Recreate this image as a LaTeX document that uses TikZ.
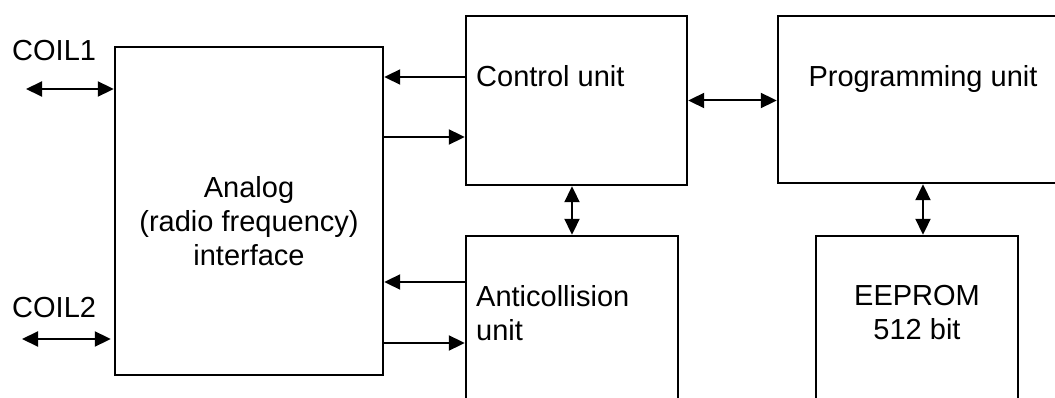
\documentclass[tikz,border=0pt]{standalone}
\usepackage{fontspec}
\setmainfont{Liberation Sans}
\usepackage{tikz}
\usetikzlibrary{positioning,arrows.meta,calc}
\tikzset{
unit/.style={
draw,
line width=2.4pt,
inner sep=0pt
},
txt/.style={
inner sep=0pt,
align=center,
font=\fontsize{29pt}{34pt}\selectfont
},
arrow/.style={
-{Triangle[length=16pt,width=15pt]},
line width=2pt
},
biarrow/.style={
{Triangle[length=16pt,width=15pt]}-{Triangle[length=16pt,width=15pt]},
line width=2pt
}
}

\begin{document}
\begin{tikzpicture}[x=1pt,y=-1pt]
\useasboundingbox(0,0)rectangle(1055,398);
\clip(0,0)rectangle(1055,398);
\node[unit,minimum width=268pt,minimum height=328pt](ana)at(249,211){};
\node[unit,minimum width=221pt,minimum height=169pt](ctl)at(576.5,100.5){};
\node[unit,minimum width=290pt,minimum height=167pt](prog)at(923,99.5){};
\node[unit,minimum width=212pt,minimum height=184pt](anti)at(572,328){};
\node[unit,minimum width=202pt,minimum height=184pt](eep)at(917,328){};

\node[txt,anchor=north](analbl)at(249,176){Analog\\(radio frequency)\\interface};
\node[txt,anchor=north west](ctllbl)at(476,65){Control unit};
\node[txt,anchor=north](proglbl)at(923,65){Programming unit};
\node[txt,anchor=north west,align=left](antilbl)at(476,285){Anticollision\\unit};
\node[txt,anchor=north](eeplbl)at(917,285){EEPROM\\512 bit};
\node[txt,anchor=north west](coila)at(12,40){COIL1};
\node[txt,anchor=north west](coilb)at(12,297){COIL2};

\coordinate(pina)at(26,89);
\coordinate(pinb)at(22,339);
\draw[biarrow](pina)--(pina-|ana.west);
\draw[biarrow](pinb)--([xshift=-3pt]pinb-|ana.west);

\foreach \u/\dy in {ctl/23.5,anti/46}
\draw[arrow]([yshift=\dy pt]\u.west)--([yshift=\dy pt]\u.west-|ana.east);
\foreach \u/\dy in {ctl/-36.5,anti/-15}
\draw[arrow]([yshift=\dy pt]\u.west-|ana.east)--([yshift=\dy pt]\u.west);

\draw[biarrow](ctl.east)--(ctl.east-|prog.west);
\draw[biarrow](anti.north)--(anti.north|-ctl.south);
\draw[biarrow](prog.south)--(prog.south|-eep.north);
\end{tikzpicture}
\end{document}
